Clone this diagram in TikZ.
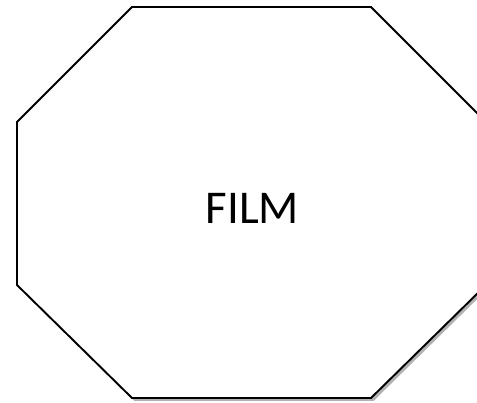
\documentclass[tikz,border=0pt]{standalone}
\usepackage{fontspec}
\setmainfont{Carlito}
\usetikzlibrary{shadows}

\begin{document}
\begin{tikzpicture}[
    x=1pt, y=1pt,
    octa/.style={draw=black, line width=1.9pt, fill=white, line join=miter,
        drop shadow={shadow xshift=2.5pt, shadow yshift=-3pt, opacity=0.3, fill=black}},
    label/.style={font=\fontsize{47}{50}\selectfont, text=black}
]
\clip (0,0) rectangle (477,403);
\fill[white] (0,0) rectangle (477,403);
% octagon
\path[octa] (132,396) -- (371,396) -- (486,281) -- (486,118) -- (371,5)
    -- (132,5) -- (17,118) -- (17,281) -- cycle;
\node[label] (film) at (252.5,195) {FILM};
\end{tikzpicture}
\end{document}
